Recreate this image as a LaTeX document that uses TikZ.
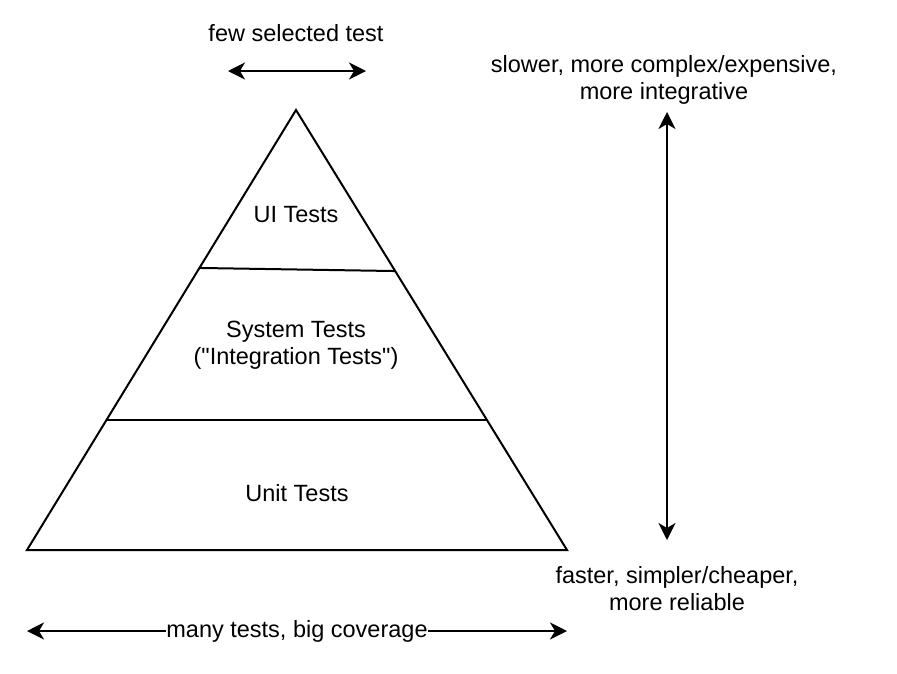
\documentclass[tikz,border=0pt]{standalone}
\usepackage{fontspec}
\setmainfont{Liberation Sans}[Ligatures=TeXOff]
\usetikzlibrary{arrows.meta,calc}
\begin{document}
\begin{tikzpicture}[x=1pt,y=-1pt,
  line width=2pt,
  lbl/.style={font=\fontsize{23.5}{27}\selectfont, inner sep=0pt, align=center},
  dblarrow/.style={{Stealth[length=17pt,width=17pt,inset=5pt]}-{Stealth[length=17pt,width=17pt,inset=5pt]}}]
\useasboundingbox (0,0) rectangle (897,673);
% pyramid
\coordinate (apex) at (296,110);
\coordinate (bl) at (27,550);
\coordinate (br) at (567,550);
\draw (apex) -- (bl) -- (br) -- cycle;
\coordinate (l1) at ($(apex)!0.359!(bl)$);
\coordinate (r1) at ($(apex)!0.366!(br)$);
\coordinate (l2) at ($(apex)!0.7045!(bl)$);
\coordinate (r2) at ($(apex)!0.7045!(br)$);
\draw (l1) -- (r1);
\draw (l2) -- (r2);
% labels
\node[lbl] (ui) at (296,215) {UI Tests};
\node[lbl] (sys) at (296,345) {System Tests\\("Integration Tests")};
\node[lbl] (unit) at (297,493) {Unit Tests};
\node[lbl] (few) at (296,33) {few selected test};
\node[lbl] (slow) at (664,80) {slower, more complex/expensive,\\more integrative};
\node[lbl] (fast) at (677,589) {faster, simpler/cheaper,\\more reliable};
% arrows
\coordinate (fa) at (228,71);
\coordinate (fb) at (366,71);
\draw[dblarrow] (fa) -- (fb);
\coordinate (va) at (667,112);
\coordinate (vb) at (667,540);
\draw[dblarrow] (va) -- (vb);
\coordinate (ha) at (27,631);
\coordinate (hb) at (567,631);
\draw[dblarrow] (ha) -- node[lbl, fill=white, inner ysep=2pt] (many) {many tests, big coverage} (hb);
\end{tikzpicture}
\end{document}
